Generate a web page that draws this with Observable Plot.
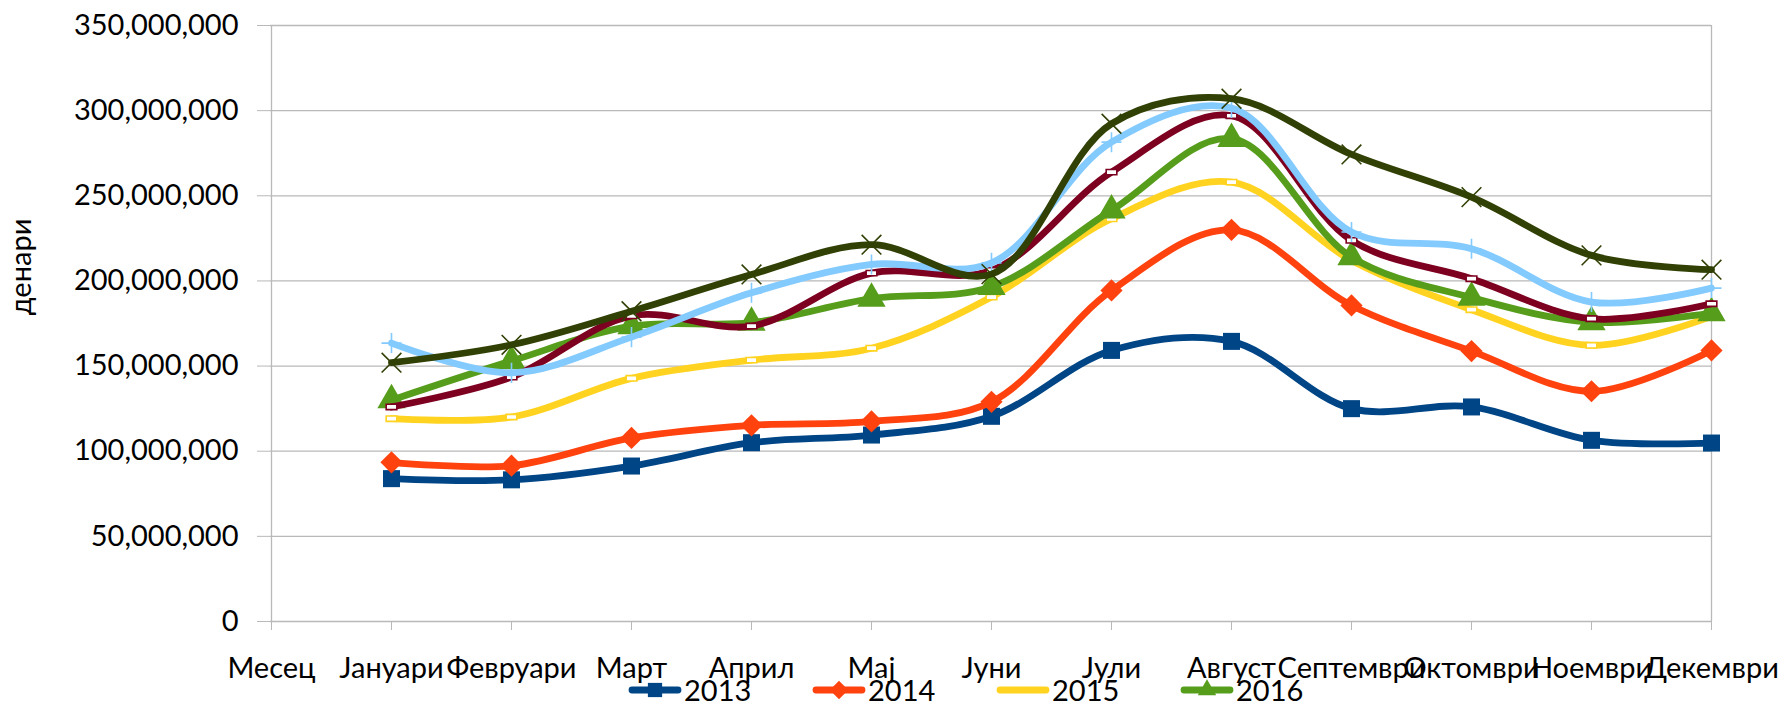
<!DOCTYPE html>
<html>
<head>
<meta charset="utf-8">
<script src="https://cdn.jsdelivr.net/npm/d3@7"></script>
<script src="https://cdn.jsdelivr.net/npm/@observablehq/plot@0.6"></script>
<style>
  body { margin: 0; background: #fff; }
  #wrap { position: relative; width: 1781px; height: 706px; overflow: hidden; font-family: Lato, sans-serif; color: #000; }
  #ylab { position: absolute; left: 19px; top: 267px; transform: translate(-50%, -50%) rotate(-90deg); font-size: 29px; white-space: nowrap; }
  #legend { position: absolute; left: 628px; top: 675px; display: flex; }
  .item { display: flex; align-items: center; width: 184px; font-size: 29px; line-height: 30px; }
  .item svg { margin-right: 2px; }
</style>
</head>
<body>
<div id="wrap">
  <div id="chart"></div>
  <div id="ylab">денари</div>
  <div id="legend"></div>
</div>
<script>
// ---- data ----
const months = ["Месец", "Јануари", "Февруари", "Март", "Април", "Мај", "Јуни", "Јули", "Август", "Септември", "Октомври", "Ноември", "Декември"];
const dataMonths = months.slice(1);
const series = ["2013", "2014", "2015", "2016", "2017", "2018", "2019"];
const legendSeries = ["2013", "2014", "2015", "2016"];
const v2013 = [83900000, 83200000, 91300000, 105000000, 109500000, 120500000, 159200000, 164500000, 125000000, 126000000, 106400000, 104800000];
const v2014 = [93500000, 91500000, 107800000, 115200000, 117500000, 129000000, 194400000, 230000000, 185600000, 158800000, 135200000, 159200000];
const v2015 = [119100000, 120100000, 142800000, 153500000, 160500000, 190500000, 236500000, 258000000, 212000000, 183100000, 162200000, 179200000];
const v2016 = [130000000, 153000000, 173500000, 175500000, 189600000, 196600000, 241400000, 283500000, 214000000, 190200000, 175800000, 181100000];
const v2017 = [126000000, 143500000, 179500000, 173500000, 204600000, 206200000, 263900000, 297000000, 223800000, 201300000, 177800000, 186600000];
const v2018 = [163500000, 146000000, 167000000, 193000000, 209700000, 210600000, 281500000, 301500000, 228700000, 218900000, 187600000, 195800000];
const v2019 = [152000000, 162500000, 182200000, 203800000, 221300000, 204000000, 292300000, 307000000, 274300000, 249200000, 215000000, 206600000];
const yTicks = [0, 50000000, 100000000, 150000000, 200000000, 250000000, 300000000, 350000000];

// ---- styles ----
const colors = ["#004586", "#ff420e", "#ffd320", "#579d1c", "#7e0021", "#83caff", "#314004"];
const rectSym = { draw(ctx, size) { const w = Math.sqrt(size); const h = w * 0.5; ctx.rect(-w / 2, -h / 2, w, h); } };
const markers = [
  { symbol: "square", r: 9.6, fill: true },
  { symbol: "diamond2", r: 10, fill: true },
  { symbol: rectSym, r: 6, fill: false },
  { symbol: "triangle", r: 10.5, fill: true },
  { symbol: rectSym, r: 6, fill: false },
  { symbol: "plus", r: 6.5, fill: false, cross: true },
  { symbol: "times", r: 9, fill: false, cross: true }
];

const valuesBySeries = [v2013, v2014, v2015, v2016, v2017, v2018, v2019];
const rows = [];
series.forEach((s, si) => dataMonths.forEach((m, mi) => rows.push({ series: s, month: m, value: valuesBySeries[si][mi] })));

const W = 1781, H = 706;
const marks = [
  Plot.ruleY(yTicks, { stroke: "#b9b9b9", strokeWidth: 1.3 }),
  Plot.ruleX([months[0], months[months.length - 1]], { stroke: "#b9b9b9", strokeWidth: 1.3 }),
  Plot.axisY({ ticks: yTicks, tickFormat: d3.format(","), tickSize: 13, tickPadding: 19, stroke: "#b9b9b9", fill: "#000", fontSize: 29, label: null }),
  Plot.axisX({ tickSize: 9, tickPadding: 27, stroke: "#b9b9b9", fill: "#000", fontSize: 29, label: null })
];
series.forEach((s, si) => {
  const data = rows.filter(d => d.series === s);
  marks.push(Plot.line(data, { x: "month", y: "value", stroke: colors[si], strokeWidth: 6.8, curve: "catmull-rom", strokeLinecap: "round", strokeLinejoin: "round" }));
  const mk = markers[si];
  if (mk.cross) {
    marks.push(Plot.dot(data, { x: "month", y: "value", symbol: () => mk.symbol, r: mk.r, stroke: colors[si], strokeWidth: 1.6, fill: "none" }));
  } else if (mk.fill) {
    marks.push(Plot.dot(data, { x: "month", y: "value", symbol: () => mk.symbol, r: mk.r, fill: colors[si], stroke: "none" }));
  } else {
    marks.push(Plot.dot(data, { x: "month", y: "value", symbol: () => mk.symbol, r: mk.r, fill: "#fff", stroke: colors[si], strokeWidth: 1.6 }));
  }
});

const chart = Plot.plot({
  width: W,
  height: H,
  marginLeft: 270,
  marginRight: 70,
  marginTop: 25,
  marginBottom: 85,
  style: { fontFamily: "Lato, sans-serif", fontSize: "29px", background: "#fff" },
  x: { type: "point", domain: months, padding: 0 },
  y: { domain: [0, 350000000] },
  symbol: { type: "identity" },
  marks
});
document.getElementById("chart").appendChild(chart);

// ---- legend ----
const legend = d3.select("#legend");
legendSeries.forEach(s => {
  const si = series.indexOf(s);
  const mk = markers[si];
  const item = legend.append("div").attr("class", "item");
  const svg = item.append("svg").attr("width", 54).attr("height", 26);
  svg.append("line").attr("x1", 4).attr("x2", 50).attr("y1", 13).attr("y2", 13)
    .attr("stroke", colors[si]).attr("stroke-width", 6.8).attr("stroke-linecap", "round");
  const symType = { square: d3.symbolSquare, diamond2: d3.symbolDiamond2, triangle: d3.symbolTriangle2 }[mk.symbol] || mk.symbol;
  const size = mk.r * mk.r * Math.PI * 0.7;
  svg.append("path").attr("transform", "translate(27,13)")
    .attr("d", d3.symbol(symType, size)())
    .attr("fill", colors[si]).attr("stroke", "none");
  item.append("span").text(s);
});
</script>
</body>
</html>
